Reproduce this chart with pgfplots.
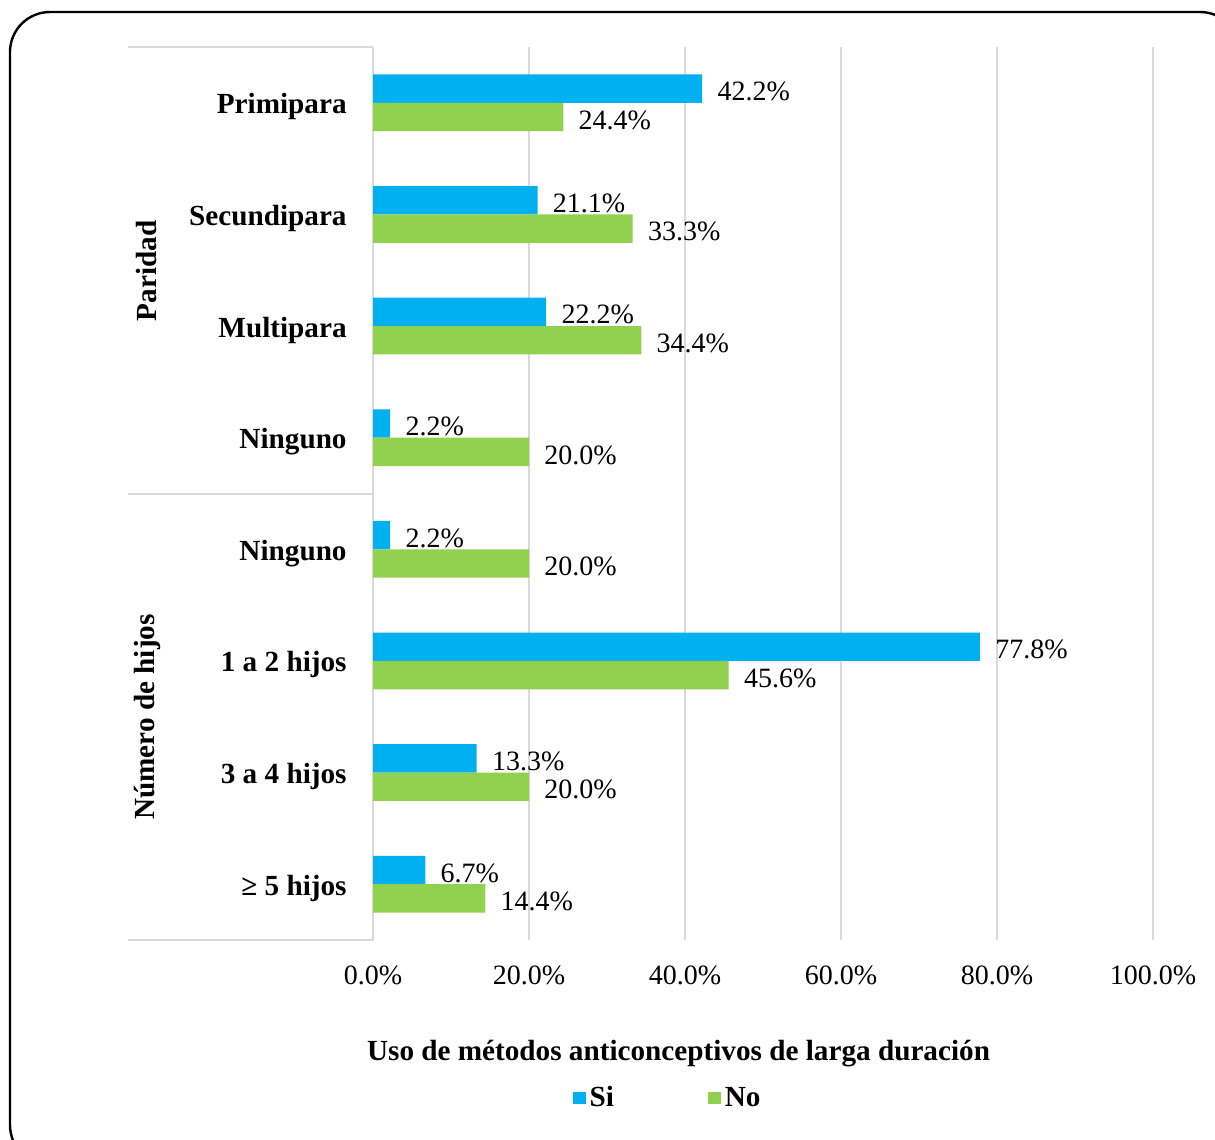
\documentclass[border=0pt]{standalone}
\usepackage{pgfplots}
\pgfplotsset{compat=1.18}
\usepackage{fontspec}
\setmainfont{Liberation Serif}
\newcommand\fs{\fontsize{14}{16.8}\selectfont}
\newcommand\fb{\fontsize{14.6}{17.5}\selectfont\bfseries}
\definecolor{siblue}{HTML}{00B0F0}
\definecolor{nogreen}{HTML}{92D050}
\definecolor{gridc}{HTML}{D9D9D9}
\begin{document}
\begin{tikzpicture}
\begin{scope}[x=0.5pt,y=-0.5pt]
\useasboundingbox (0,0) rectangle (1215,1140);
\coordinate (A) at (373,940);
\draw[line width=1.2pt, rounded corners=20pt] (10,12) rectangle (1240,1165);
\draw[gridc, line width=1pt] (128,47) -- (373,47) (128,494) -- (373,494) (128,940) -- (373,940);
\node[rotate=90, font=\fb] at (147,271) {Paridad};
\node[rotate=90, font=\fb] at (147,717) {Número de hijos};
\end{scope}
\begin{axis}[
  at={(A)}, anchor=south west,
  scale only axis, width=390pt, height=446.5pt,
  xbar, bar width=14.2pt,
  y dir=reverse,
  xmin=0, xmax=100, ymin=-0.5, ymax=7.5,
  axis line style={draw=none},
  major tick length=0pt,
  xmajorgrids, grid style={gridc, line width=1pt},
  xtick={0,20,...,100},
  xticklabel={\pgfmathprintnumber[fixed,fixed zerofill,precision=1]{\tick}\%},
  ytick={0,...,7},
  yticklabels={Primipara,Secundipara,Multipara,Ninguno,Ninguno,1 a 2 hijos,3 a 4 hijos,≥ 5 hijos},
  /pgf/number format/assume math mode=true,
  xticklabel style={font=\fs, inner sep=0pt, anchor=north, yshift=-12.5pt},
  yticklabel style={font=\fb, inner sep=0pt, anchor=east, xshift=-13pt, yshift=-2pt},
  point meta=x,
  nodes near coords={\pgfmathprintnumber[fixed,fixed zerofill,precision=1]{\pgfplotspointmeta}\%},
  every node near coord/.append style={font=\fs, inner sep=0pt, anchor=west, xshift=7.5pt, yshift=-1.5pt, text=black},
  xlabel={Uso de métodos anticonceptivos de larga duración},
  xlabel style={font=\fb, at={(axis description cs:0.3917,-0.1277)}, anchor=center},
  legend style={at={(axis description cs:0.3790,-0.1770)}, anchor=center, draw=none, fill=none,
    legend columns=2, font=\fb,
    /tikz/every even column/.append style={column sep=45pt}},
  legend cell align=left,
]
\addplot[fill=siblue, draw=none, bar shift=7.1pt,
  legend image code/.code={\fill[siblue] (0pt,-3.2pt) rectangle (6.4pt,3.2pt);}]
  coordinates {(42.2,0) (21.1,1) (22.2,2) (2.2,3) (2.2,4) (77.8,5) (13.3,6) (6.7,7)};
\addlegendentry{Si}
\addplot[fill=nogreen, draw=none, bar shift=-7.1pt,
  legend image code/.code={\fill[nogreen] (0pt,-3.2pt) rectangle (6.4pt,3.2pt);}]
  coordinates {(24.4,0) (33.3,1) (34.4,2) (20.0,3) (20.0,4) (45.6,5) (20.0,6) (14.4,7)};
\addlegendentry{No}
\end{axis}
\end{tikzpicture}
\end{document}
